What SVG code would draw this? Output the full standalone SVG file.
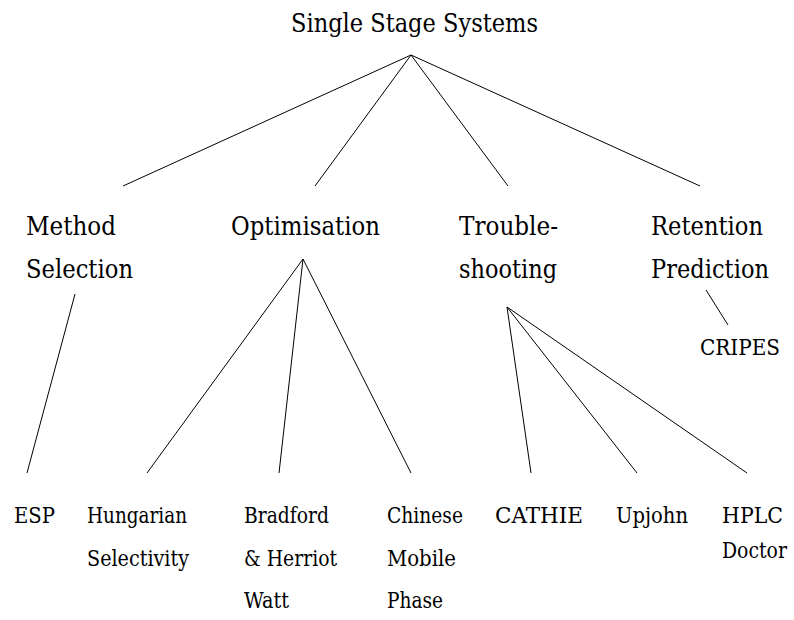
<svg xmlns="http://www.w3.org/2000/svg" width="794" height="620" viewBox="0 0 794 620" font-family="DejaVu Serif, Liberation Serif, serif">
<style>
.l0{font-size:26px}
.l1{font-size:26px}
.l2{font-size:21.5px}
line{stroke:#000;stroke-width:1}
</style>
<rect width="794" height="620" fill="#fff"/>
<g id="connectors">
<line x1="411" y1="55" x2="123" y2="186"/>
<line x1="411" y1="55" x2="315" y2="186"/>
<line x1="411" y1="55" x2="508" y2="186"/>
<line x1="411" y1="55" x2="700" y2="186"/>
<line x1="75" y1="294" x2="27" y2="473"/>
<line x1="303" y1="259" x2="147" y2="473"/>
<line x1="303" y1="259" x2="279" y2="473"/>
<line x1="303" y1="259" x2="411" y2="473"/>
<line x1="507" y1="307" x2="531" y2="473"/>
<line x1="507" y1="307" x2="637" y2="473"/>
<line x1="507" y1="307" x2="747" y2="473"/>
<line x1="706" y1="290" x2="728" y2="325"/>
</g>
<g id="root"><text class="l0" x="291" y="32" textLength="247" lengthAdjust="spacingAndGlyphs">Single Stage Systems</text></g>
<g id="method"><text class="l1" x="26" y="235" textLength="90" lengthAdjust="spacingAndGlyphs">Method</text><text class="l1" x="26" y="278" textLength="107" lengthAdjust="spacingAndGlyphs">Selection</text></g>
<g id="optimisation"><text class="l1" x="231" y="235" textLength="149" lengthAdjust="spacingAndGlyphs">Optimisation</text></g>
<g id="troubleshooting"><text class="l1" x="459" y="235" textLength="99" lengthAdjust="spacingAndGlyphs">Trouble-</text><text class="l1" x="459" y="278" textLength="98" lengthAdjust="spacingAndGlyphs">shooting</text></g>
<g id="retention"><text class="l1" x="651" y="235" textLength="112" lengthAdjust="spacingAndGlyphs">Retention</text><text class="l1" x="651" y="278" textLength="118" lengthAdjust="spacingAndGlyphs">Prediction</text></g>
<g id="cripes"><text class="l2" x="700" y="355" textLength="80" lengthAdjust="spacingAndGlyphs">CRIPES</text></g>
<g id="esp"><text class="l2" x="14" y="523" textLength="41" lengthAdjust="spacingAndGlyphs">ESP</text></g>
<g id="hungarian"><text class="l2" x="87" y="523" textLength="100" lengthAdjust="spacingAndGlyphs">Hungarian</text><text class="l2" x="87" y="566" textLength="102" lengthAdjust="spacingAndGlyphs">Selectivity</text></g>
<g id="bradford"><text class="l2" x="244" y="523" textLength="85" lengthAdjust="spacingAndGlyphs">Bradford</text><text class="l2" x="244" y="566" textLength="93" lengthAdjust="spacingAndGlyphs">&amp; Herriot</text><text class="l2" x="244" y="608" textLength="45" lengthAdjust="spacingAndGlyphs">Watt</text></g>
<g id="chinese"><text class="l2" x="387" y="523" textLength="76" lengthAdjust="spacingAndGlyphs">Chinese</text><text class="l2" x="387" y="566" textLength="69" lengthAdjust="spacingAndGlyphs">Mobile</text><text class="l2" x="387" y="608" textLength="56" lengthAdjust="spacingAndGlyphs">Phase</text></g>
<g id="cathie"><text class="l2" x="495" y="523" textLength="88" lengthAdjust="spacingAndGlyphs">CATHIE</text></g>
<g id="upjohn"><text class="l2" x="616" y="523" textLength="72" lengthAdjust="spacingAndGlyphs">Upjohn</text></g>
<g id="hplc"><text class="l2" x="722" y="523" textLength="61" lengthAdjust="spacingAndGlyphs">HPLC</text><text class="l2" x="722" y="558" textLength="65" lengthAdjust="spacingAndGlyphs">Doctor</text></g>
</svg>
